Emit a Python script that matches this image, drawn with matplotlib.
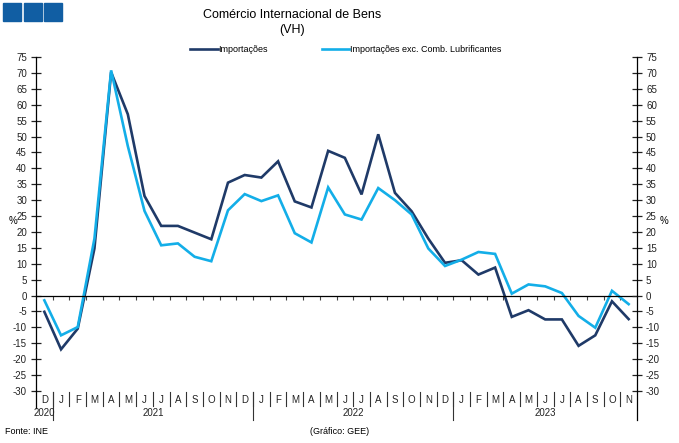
import numpy as np
import matplotlib.pyplot as plt
from matplotlib.patches import Rectangle
import matplotlib.transforms as mtransforms

plt.rcParams['font.family'] = ['Liberation Sans', 'DejaVu Sans']
plt.rcParams['axes.unicode_minus'] = False

# Dados (VH, %) - Dez 2020 a Nov 2023
meses = ["D",
         "J", "F", "M", "A", "M", "J", "J", "A", "S", "O", "N", "D",
         "J", "F", "M", "A", "M", "J", "J", "A", "S", "O", "N", "D",
         "J", "F", "M", "A", "M", "J", "J", "A", "S", "O", "N"]
anos = ["2020", "2021", "2022", "2023"]
meses_por_ano = [1, 12, 12, 11]

importacoes = [-5.1, -16.9, -10.4, 14.8, 70.2, 57.0, 31.3, 21.9, 21.9, 19.8, 17.7, 35.5,
               37.9, 37.1, 42.2, 29.6, 27.7, 45.5, 43.3, 31.8, 50.7, 32.3, 26.5, 17.9,
               10.3, 11.1, 6.6, 8.8, -6.7, -4.6, -7.5, -7.5, -15.8, -12.5, -1.8, -7.4]
importacoes_exc = [-1.5, -12.5, -9.9, 17.9, 70.8, 47.0, 26.6, 15.8, 16.4, 12.2, 10.8, 26.8,
                   31.9, 29.7, 31.5, 19.6, 16.7, 34.0, 25.5, 23.9, 33.8, 30.0, 25.5, 14.8,
                   9.3, 11.3, 13.7, 13.1, 0.6, 3.5, 2.9, 0.8, -6.4, -10.1, 1.5, -2.7]

cor_imp = "#1f3a68"
cor_exc = "#13aee8"

fig = plt.figure(figsize=(6.79, 4.43), dpi=100)
ax = fig.add_axes([36/679, 1 - 391/443, (637-36)/679, (391-57)/443])

x = np.arange(len(meses))
ax.plot(x, importacoes, color=cor_imp, lw=1.9, label="Importações", solid_joinstyle='miter')
ax.plot(x, importacoes_exc, color=cor_exc, lw=1.9, label="Importações exc. Comb. Lubrificantes",
        solid_joinstyle='miter')

ax.set_xlim(-0.5, len(meses) - 0.5)
ax.set_ylim(-30, 75)
ax.set_yticks(np.arange(-30, 80, 5))

# eixo horizontal no zero com marcas entre os meses
ax.spines['bottom'].set_position(('data', 0))
ax.spines['bottom'].set_linewidth(0.9)
ax.spines['top'].set_visible(False)
ax.spines['right'].set_visible(False)
ax.set_xticks(np.arange(0.5, len(meses) - 1, 1))
ax.tick_params(axis='x', direction='out', length=3, width=0.8, color='#444444', labelbottom=False)
ax.tick_params(axis='y', direction='inout', length=7, width=0.9, labelsize=7, pad=3, colors='#222222')
ax.spines['left'].set_linewidth(0.9)

ax2 = ax.twinx()
ax2.set_ylim(ax.get_ylim())
ax2.set_yticks(np.arange(-30, 80, 5))
for s in ['top', 'left', 'bottom']:
    ax2.spines[s].set_visible(False)
ax2.spines['right'].set_linewidth(0.9)
ax2.tick_params(axis='y', direction='inout', length=7, width=0.9, labelsize=7, pad=3, colors='#222222')

# rótulos de meses e anos por baixo
trans = mtransforms.blended_transform_factory(ax.transData, ax.transAxes)
for i, m in enumerate(meses):
    ax.text(i, -0.028, m, transform=trans, ha='center', va='center', fontsize=7, color='#222222')
for k in range(1, len(meses)):
    ax.plot([k - 0.5, k - 0.5], [-0.003, -0.045], transform=trans, color='#333333', lw=0.8, clip_on=False)
inicio = 0
for ano, n in zip(anos, meses_por_ano):
    ax.text(inicio + (n - 1) / 2, -0.067, ano, transform=trans, ha='center', va='center',
            fontsize=7, color='#222222')
    if inicio > 0:
        ax.plot([inicio - 0.5, inicio - 0.5], [-0.003, -0.087], transform=trans, color='#333333',
                lw=0.8, clip_on=False)
    inicio += n
ax.plot([-0.5, -0.5], [0, -0.05], transform=trans, color='black', lw=0.9, clip_on=False)
ax.plot([len(meses) - 0.5] * 2, [0, -0.087], transform=trans, color='black', lw=0.9, clip_on=False)

# títulos e textos
fig.text(292/679, 1 - 15/443, "Comércio Internacional de Bens", ha='center', va='center', fontsize=9)
fig.text(292/679, 1 - 30/443, "(VH)", ha='center', va='center', fontsize=9)
fig.text(13/679, 1 - 221/443, "%", ha='center', va='center', fontsize=7)
fig.text(664/679, 1 - 221/443, "%", ha='center', va='center', fontsize=7)
fig.text(5/679, 1 - 432/443, "Fonte: INE", ha='left', va='center', fontsize=6.5)
fig.text(340/679, 1 - 432/443, "(Gráfico: GEE)", ha='center', va='center', fontsize=6.5)

fig.legend(loc='center', bbox_to_anchor=(346/679, 1 - 50/443), ncol=2, frameon=False,
           fontsize=6.5, handlelength=3.0, handletextpad=0.1, columnspacing=6.0)

# logotipo (três quadrados azuis)
for i in range(3):
    fig.patches.append(Rectangle(((3 + i * 20.5) / 679, 1 - 21/443), 18/679, 18/443,
                                 transform=fig.transFigure, color="#115ea3"))

fig.savefig("out.png", dpi=100)
